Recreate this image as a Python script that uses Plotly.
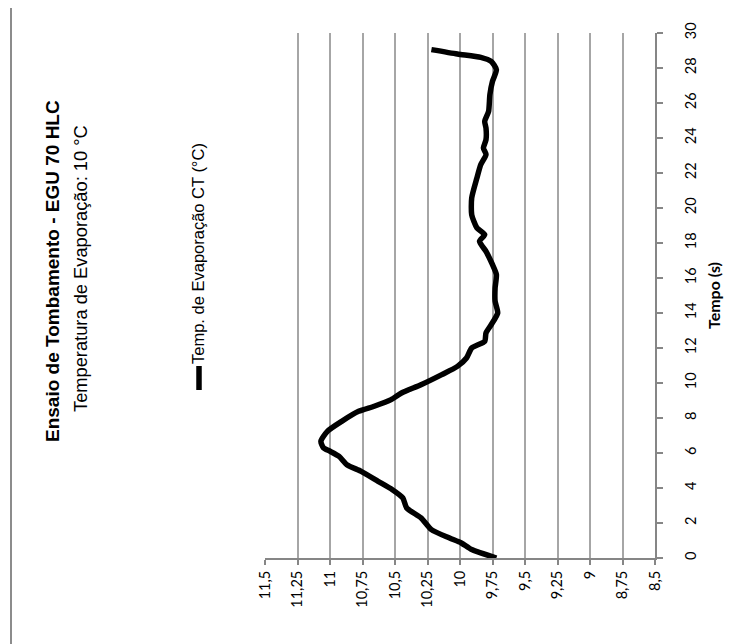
import plotly.graph_objects as go

# Data: time (s) and evaporation temperature (°C)
tempo = [0.0, 0.48, 0.86, 1.14, 1.62, 2.29, 2.86, 3.43, 3.90, 4.38, 4.95, 5.33, 5.81, 6.10, 6.29,
         6.67, 7.24, 7.81, 8.38, 8.67, 9.05, 9.43, 9.90, 10.48, 10.95, 11.43, 12.0, 12.38, 12.86,
         13.33, 14.0, 14.67, 15.43, 16.19, 16.76, 17.52, 18.10, 18.48, 18.86, 19.62, 20.57, 21.71,
         22.48, 23.05, 23.43, 23.90, 24.57, 24.95, 25.52, 26.48, 27.24, 27.90, 28.38, 28.61, 28.8, 29.05]
temperatura = [9.72, 9.91, 9.99, 10.08, 10.22, 10.30, 10.41, 10.44, 10.52, 10.63, 10.76, 10.87, 10.93,
               11.00, 11.05, 11.07, 11.02, 10.91, 10.78, 10.66, 10.53, 10.45, 10.30, 10.14, 10.02, 9.95,
               9.91, 9.81, 9.80, 9.76, 9.71, 9.73, 9.73, 9.72, 9.75, 9.80, 9.85, 9.81, 9.87, 9.91, 9.91,
               9.87, 9.84, 9.80, 9.82, 9.80, 9.80, 9.81, 9.78, 9.77, 9.75, 9.72, 9.76, 9.84, 10.02, 10.22]

temp_ticks = [11.5, 11.25, 11.0, 10.75, 10.5, 10.25, 10.0, 9.75, 9.5, 9.25, 9.0, 8.75, 8.5]
temp_tick_labels = ["11,5", "11,25", "11", "10,75", "10,5", "10,25", "10", "9,75", "9,5", "9,25", "9", "8,75", "8,5"]
tempo_ticks = list(range(0, 31, 2))

titulo = "<b>Ensaio de Tombamento - EGU 70 HLC</b>"
subtitulo = "Temperatura de Evaporação: 10 °C"
serie_nome = "Temp. de Evaporação CT (°C)"
eixo_tempo = "<b>Tempo (s)</b>"

W, H = 747, 644
L, R, T, B = 257, 647, 25, 550
pw, ph = R - L, B - T

def px(x):
    return (x - L) / pw

def py(y):
    return (B - y) / ph

narrow = "Liberation Sans Narrow, Arial Narrow, Liberation Sans, Arial, sans-serif"
tickfont = "Lato, Carlito, Calibri, sans-serif"

fig = go.Figure()
fig.add_trace(go.Scatter(
    x=temperatura, y=tempo, mode="lines", name=serie_nome,
    line=dict(color="black", width=5.5, shape="spline", smoothing=0.6),
    showlegend=False,
))

fig.update_layout(
    width=W, height=H,
    margin=dict(l=L, r=W - R, t=T, b=H - B, pad=0),
    paper_bgcolor="white", plot_bgcolor="white",
    xaxis=dict(
        range=[11.5, 8.5], tickvals=temp_ticks, ticktext=temp_tick_labels,
        tickangle=-90, showgrid=True, gridcolor="#a6a6a6", gridwidth=1.5,
        showline=True, linecolor="#868686", linewidth=2,
        ticks="outside", ticklen=5, tickcolor="#868686", tickwidth=1.5,
        tickfont=dict(family=tickfont, size=14.5, color="black"),
        zeroline=False, fixedrange=True,
    ),
    yaxis=dict(
        range=[0, 30], tickvals=tempo_ticks, side="right",
        tickangle=-90, showgrid=False,
        showline=True, linecolor="#868686", linewidth=2,
        ticks="outside", ticklen=6, tickcolor="#868686", tickwidth=1.5,
        tickfont=dict(family=tickfont, size=14.5, color="black"),
        ticklabelstandoff=16,
        title=dict(text=eixo_tempo, font=dict(family=tickfont, size=16, color="black"), standoff=10),
        zeroline=False, fixedrange=True,
    ),
    showlegend=False,
)

fig.add_annotation(text=titulo, xref="paper", yref="paper", x=px(44), y=py(263),
                   xanchor="center", yanchor="middle",
                   textangle=-90, showarrow=False, font=dict(family=narrow, size=19, color="black"))
fig.add_annotation(text=subtitulo, xref="paper", yref="paper", x=px(72), y=py(261),
                   xanchor="center", yanchor="middle",
                   textangle=-90, showarrow=False, font=dict(family=narrow, size=18.3, color="black"))
fig.add_annotation(text=serie_nome, xref="paper", yref="paper", x=px(190), y=py(246),
                   xanchor="center", yanchor="middle",
                   textangle=-90, showarrow=False, font=dict(family=narrow, size=16.5, color="black"))
# legend marker
fig.add_shape(type="line", xref="paper", yref="paper", x0=px(191), x1=px(191), y0=py(358), y1=py(382),
              line=dict(color="black", width=5.5))
# chart border (left and bottom visible)
fig.add_shape(type="line", xref="paper", yref="paper", x0=px(3), x1=px(3), y0=py(-5), y1=py(639),
              line=dict(color="#8c8c8c", width=2))
fig.add_shape(type="line", xref="paper", yref="paper", x0=px(3), x1=px(760), y0=py(639), y1=py(639),
              line=dict(color="#8c8c8c", width=2))

fig.write_html("out.html")
